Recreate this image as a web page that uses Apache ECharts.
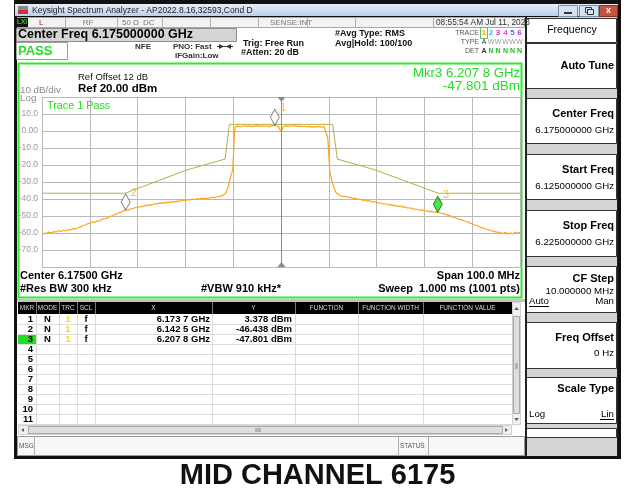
<!DOCTYPE html>
<html>
<head>
<meta charset="utf-8">
<script src="https://cdn.jsdelivr.net/npm/echarts@6.0.0/dist/echarts.min.js"></script>
<style>
html,body{margin:0;padding:0;background:#fff;}
#chart{width:631px;height:493px;}
</style>
</head>
<body>
<div id="chart"></div>
<script>
// 迹线1 读数: [频率 GHz, 电平 dBm]
var trace = [
  [6.1250,-59.8],[6.1255,-60.4],[6.1260,-60.1],[6.1265,-59.5],[6.1270,-59.9],[6.1275,-59.2],
  [6.1280,-59.4],[6.1285,-58.7],[6.1290,-59.1],[6.1295,-58.4],[6.1300,-58.8],[6.1305,-58.0],
  [6.1310,-58.3],[6.1315,-57.4],[6.1320,-57.6],[6.1325,-56.9],[6.1330,-56.5],[6.1335,-55.6],
  [6.1340,-55.3],[6.1345,-54.6],[6.1350,-54.3],[6.1355,-53.5],[6.1360,-53.8],[6.1365,-52.9],
  [6.1370,-53.1],[6.1375,-52.0],[6.1380,-51.6],[6.1385,-51.4],[6.1390,-50.5],[6.1395,-50.1],
  [6.1400,-49.4],[6.1405,-49.0],[6.1410,-48.1],[6.1415,-47.9],[6.1420,-47.1],[6.1425,-46.4],
  [6.1430,-46.6],[6.1435,-45.9],[6.1440,-45.7],[6.1445,-45.0],[6.1450,-45.1],[6.1455,-44.4],
  [6.1460,-44.6],[6.1465,-43.8],[6.1470,-43.9],[6.1475,-43.3],[6.1480,-43.5],[6.1485,-42.8],
  [6.1490,-42.9],[6.1495,-42.4],[6.1500,-42.6],[6.1505,-42.1],[6.1510,-42.3],[6.1515,-41.8],
  [6.1520,-42.0],[6.1525,-41.5],[6.1530,-41.7],[6.1535,-41.1],[6.1540,-41.2],[6.1545,-40.7],
  [6.1550,-40.9],[6.1555,-40.4],[6.1560,-40.6],[6.1565,-40.1],[6.1570,-40.3],[6.1575,-39.8],
  [6.1580,-40.0],[6.1585,-39.5],[6.1590,-39.8],[6.1595,-39.4],[6.1600,-39.6],[6.1605,-39.0],
  [6.1610,-39.2],[6.1615,-38.7],[6.1620,-38.6],[6.1625,-38.2],[6.1630,-37.6],[6.1635,-36.2],
  [6.1640,-32.5],[6.1643,-28.8],[6.1646,-25.5],[6.1649,-22.9],[6.1650,-18.0],[6.1652,-4.3],
  [6.1654,2.4],[6.1660,2.9],[6.1665,2.5],[6.1670,2.8],[6.1675,3.1],[6.1680,2.7],[6.1685,3.0],
  [6.1690,2.6],[6.1695,2.9],[6.1700,3.2],[6.1705,2.7],[6.1710,3.0],[6.1715,2.8],[6.1720,3.1],
  [6.1725,2.6],[6.1730,3.0],[6.1737,3.4],[6.1740,2.8],[6.1745,2.4],[6.1750,-0.4],[6.1755,2.5],
  [6.1760,3.0],[6.1765,2.7],[6.1770,3.1],[6.1775,2.8],[6.1780,3.2],[6.1785,2.6],[6.1790,2.9],
  [6.1795,2.5],[6.1800,2.8],[6.1805,2.4],[6.1810,2.7],[6.1815,2.3],[6.1820,2.6],[6.1825,2.4],
  [6.1830,2.7],[6.1835,2.3],[6.1840,2.6],[6.1844,2.5],[6.1848,-4.3],[6.1850,-14.0],[6.1852,-24.0],
  [6.1856,-28.8],[6.1859,-31.8],[6.1863,-34.9],[6.1866,-36.6],[6.1870,-37.4],[6.1875,-38.1],
  [6.1880,-38.6],[6.1885,-38.4],[6.1890,-39.1],[6.1895,-39.0],[6.1900,-39.7],[6.1905,-39.5],
  [6.1910,-40.2],[6.1915,-40.0],[6.1920,-40.7],[6.1925,-40.6],[6.1930,-41.2],[6.1935,-41.0],
  [6.1940,-41.7],[6.1945,-41.5],[6.1950,-42.1],[6.1955,-42.3],[6.1960,-42.5],[6.1965,-42.9],
  [6.1970,-42.8],[6.1975,-43.4],[6.1980,-43.3],[6.1985,-43.9],[6.1990,-43.8],[6.1995,-44.3],
  [6.2000,-44.2],[6.2005,-44.8],[6.2010,-44.7],[6.2015,-45.3],[6.2020,-45.2],[6.2025,-45.8],
  [6.2030,-45.9],[6.2035,-46.1],[6.2040,-46.6],[6.2045,-46.4],[6.2050,-47.0],[6.2055,-46.9],
  [6.2060,-47.4],[6.2065,-47.3],[6.2070,-47.8],[6.2075,-47.6],[6.2078,-47.8],[6.2085,-48.4],
  [6.2090,-48.6],[6.2095,-49.2],[6.2100,-49.5],[6.2105,-50.1],[6.2110,-50.7],[6.2115,-51.0],
  [6.2120,-51.6],[6.2125,-52.1],[6.2130,-52.4],[6.2135,-53.1],[6.2140,-53.4],[6.2145,-54.2],
  [6.2150,-54.5],[6.2155,-55.3],[6.2160,-55.6],[6.2165,-56.3],[6.2170,-56.8],[6.2175,-57.2],
  [6.2180,-57.8],[6.2185,-58.1],[6.2190,-58.7],[6.2195,-58.9],[6.2200,-59.5],[6.2205,-59.4],
  [6.2210,-60.1],[6.2215,-60.2],[6.2220,-59.8],[6.2225,-60.5],[6.2230,-60.1],[6.2235,-60.4],
  [6.2240,-59.7],[6.2245,-60.0],[6.2250,-59.6]
];
// 限值线 (模板)
var limitFreq = [6.1250, 6.1424, 6.1553, 6.1633, 6.1642, 6.1858, 6.1868, 6.1947, 6.2079, 6.2250];
var limitDbm  = [-36.6, -36.6, -22.9, -16.5, 3.9, 3.9, -16.5, -22.9, -36.6, -36.6];
// 标记
var markerNo   = ['1', '2', '3'];
var markerFreq = [6.1737, 6.1425, 6.2078];
var markerDbm  = [3.378, -46.438, -47.801];
var activeMarker = 2;
// 坐标轴
var centerGHz = 6.175;
var spanMHz = 100;
var refDbm = 20;
var divDb = 10;
var tableRows = ['1','2','3','4','5','6','7','8','9','10','11'];
var softKeys = ['Auto Tune','Center Freq','Start Freq','Stop Freq','CF Step','Freq Offset','Scale Type'];
var softVals = ['', '6.175000000 GHz', '6.125000000 GHz', '6.225000000 GHz', '10.000000 MHz', '0 Hz', ''];

var F = '"Liberation Sans", Arial, sans-serif';
function T(x, y, s, size, color, opt) {
  opt = opt || {};
  return {type: 'text', silent: true, z: 100,
    style: {text: s, x: x, y: y, font: (opt.bold ? 'bold ' : '') + size + 'px ' + F, fill: color,
      textAlign: opt.align || 'left', textVerticalAlign: 'middle'}};
}
function R(x, y, w, h, fill, stroke, lw) {
  return {type: 'rect', silent: true, shape: {x: x, y: y, width: w, height: h},
    style: {fill: fill || 'none', stroke: stroke || 'none', lineWidth: lw || 1}};
}
function L(x1, y1, x2, y2, c, lw) {
  return {type: 'line', silent: true, shape: {x1: x1, y1: y1, x2: x2, y2: y2}, style: {stroke: c, lineWidth: lw || 1}};
}
function P(pts, c) {
  return {type: 'polygon', silent: true, z: 50, shape: {points: pts}, style: {fill: c}};
}
function toX(f) { return (f - centerGHz) * 1000; }

var g = [];
// 窗口外框与标题栏
g.push(R(14, 0, 607, 459, '#111'));
g.push(R(15, 4, 603, 12, {type: 'linear', x: 0, y: 0, x2: 0, y2: 1,
  colorStops: [{offset: 0, color: '#e6eef8'}, {offset: 1, color: '#bcd1ea'}]}));
g.push(R(18, 6, 10, 8, '#8a8a8a'), R(18, 10, 10, 4, '#c33'));
g.push(T(32, 10.5, 'Keysight Spectrum Analyzer - AP2022.8.16,32593,Cond D', 8.5, '#1e1e1e'));
g.push(R(558.5, 5.5, 19, 11, '#d3e1f1', '#7890ae'), L(564, 13, 572, 13, '#333', 2));
g.push(R(579.5, 5.5, 19, 11, '#d3e1f1', '#7890ae'), R(585.5, 7.5, 6, 5, 'none', '#333'), R(587.5, 9.5, 6, 5, '#d3e1f1', '#333'));
g.push(R(599.5, 5.5, 18, 11, '#c9533e', '#8b2f22'), T(608.5, 11, 'x', 9, '#fff', {bold: true, align: 'center'}));
// 主区域
g.push(R(17, 17, 508, 439, '#fff'));
// 状态栏
g.push(R(17.5, 17.5, 507, 10, '#f3f3f3', '#a8a8a8'));
g.push(R(16, 18, 12, 9, '#111'), T(22, 22.5, 'LXI', 6.5, '#3c3', {bold: true, align: 'center'}));
[65, 117, 162, 210, 258, 307, 355, 433].forEach(function (x) { g.push(L(x + 0.5, 18, x + 0.5, 27, '#b0b0b0')); });
g.push(T(39, 22.5, 'L', 8, '#8b2a1a'));
g.push(T(88, 22.5, 'RF', 8, '#7a7a7a', {align: 'center'}));
g.push(T(122, 22.5, '50 \u03a9', 8, '#7a7a7a'));
g.push(T(143, 22.5, 'DC', 8, '#7a7a7a'));
g.push(T(270, 22.5, 'SENSE:INT', 8, '#7a7a7a'));
g.push(T(436, 22.5, '08:55:54 AM Jul 11, 2023', 8.3, '#333'));
// 信息区
g.push(R(16.5, 28.5, 220, 13, '#d6d6d6', '#8c8c8c'));
g.push(T(18, 35, 'Center Freq 6.175000000 GHz', 12.5, '#000', {bold: true}));
g.push(R(16.5, 42.5, 51, 17, '#fff', '#a0a0a0'));
g.push(T(18, 51, 'PASS', 13, '#22dd22', {bold: true}));
g.push(T(135, 46.5, 'NFE', 8, '#333', {bold: true}));
g.push(T(173, 46.5, 'PNO: Fast', 8, '#333', {bold: true}));
g.push(L(217, 46.5, 233, 46.5, '#333'), P([[219, 44], [224, 46.5], [219, 49]], '#333'), P([[231, 44], [226, 46.5], [231, 49]], '#333'));
g.push(T(175, 56, 'IFGain:Low', 8, '#333', {bold: true}));
g.push(T(243, 43.5, 'Trig: Free Run', 9, '#111', {bold: true}));
g.push(T(241, 53, '#Atten: 20 dB', 9, '#111', {bold: true}));
g.push(T(335, 33.5, '#Avg Type: RMS', 9, '#111', {bold: true}));
g.push(T(335, 43.5, 'Avg|Hold: 100/100', 9, '#111', {bold: true}));
var trX = [484, 491, 498, 505.5, 512.5, 519.5];
var trC = ['#ff9900', '#22bbee', '#ee22cc', '#dd44dd', '#4477ee', '#aa33ee'];
g.push(T(479, 33, 'TRACE', 7, '#555', {align: 'right'}));
g.push(T(479, 42, 'TYPE', 7, '#555', {align: 'right'}));
g.push(T(479, 51, 'DET', 7, '#555', {align: 'right'}));
g.push(R(480.5, 27.5, 7, 11, 'none', '#66bb66'));
trX.forEach(function (x, i) {
  g.push(T(x, 33, String(i + 1), 8, trC[i], {bold: true, align: 'center'}));
  g.push(T(x, 42, i === 0 ? 'A' : 'W', 7, i === 0 ? '#333' : '#9a9a9a', {align: 'center'}));
  g.push(T(x, 51, i === 0 ? 'A' : 'N', 7, i === 0 ? '#333' : '#22bb22', {bold: true, align: 'center'}));
});
// 图形区绿框
g.push(R(18.5, 63.5, 503, 234, 'none', '#2eea2e', 2));
g.push(T(78, 77, 'Ref Offset 12 dB', 9.5, '#111'));
g.push(T(78, 89, 'Ref 20.00 dBm', 11.5, '#000', {bold: true}));
g.push(T(20, 90, '10 dB/div', 9.8, '#8c8c8c'));
g.push(T(20, 98, 'Log', 9.8, '#8c8c8c'));
g.push(T(47, 106, 'Trace 1 Pass', 10.8, '#22dd22'));
g.push(T(520, 73, 'Mkr3 6.207 8 GHz', 13.2, '#22dd22', {align: 'right'}));
g.push(T(520, 86.5, '-47.801 dBm', 13.5, '#22dd22', {align: 'right'}));
g.push(P([[277.5, 97], [285.5, 97], [281.5, 102]], '#8a8a8a'));
g.push(P([[277.5, 267], [285.5, 267], [281.5, 262]], '#8a8a8a'));
g.push(T(20, 276, 'Center 6.17500 GHz', 11, '#000', {bold: true}));
g.push(T(520, 276, 'Span 100.0 MHz', 11, '#000', {bold: true, align: 'right'}));
g.push(T(20, 289, '#Res BW 300 kHz', 11, '#000', {bold: true}));
g.push(T(201, 289, '#VBW 910 kHz*', 11, '#000', {bold: true}));
g.push(T(520, 289, 'Sweep  1.000 ms (1001 pts)', 11, '#000', {bold: true, align: 'right'}));
g.push(R(17, 299, 508, 3, '#c4c4c4'));
// 标记表
var cols = [18, 36, 59, 77, 95, 212, 295, 358, 423, 512];
var heads = ['MKR', 'MODE', 'TRC', 'SCL', 'X', 'Y', 'FUNCTION', 'FUNCTION WIDTH', 'FUNCTION VALUE'];
g.push(R(18, 302, 494, 12, '#000'));
heads.forEach(function (h, i) {
  g.push(T((cols[i] + cols[i + 1]) / 2, 308.5, h, 6.5, '#d8d8d8', {align: 'center'}));
  if (i > 0) g.push(L(cols[i] + 0.5, 302, cols[i] + 0.5, 314, '#777'));
});
for (var c = 1; c < cols.length - 1; c++) g.push(L(cols[c] + 0.5, 314, cols[c] + 0.5, 425, '#dcdcdc'));
g.push(R(18, 334.5, 18, 10, '#22dd22'));
tableRows.forEach(function (r, i) {
  var yc = 319.7 + 10 * i;
  g.push(L(18, 314.5 + 10 * (i + 1), 512, 314.5 + 10 * (i + 1), '#dcdcdc'));
  g.push(T(33, yc, r, 9.5, '#000', {bold: true, align: 'right'}));
  if (i < markerFreq.length) {
    var fs = markerFreq[i].toFixed(4);
    g.push(T(47.5, yc, 'N', 9.5, '#000', {bold: true, align: 'center'}));
    g.push(T(68, yc, '1', 9.5, '#f0e000', {bold: true, align: 'center'}));
    g.push(T(86, yc, 'f', 9.5, '#000', {bold: true, align: 'center'}));
    g.push(T(210, yc, fs.slice(0, 5) + ' ' + fs.slice(5) + ' GHz', 9.5, '#000', {bold: true, align: 'right'}));
    g.push(T(292, yc, markerDbm[i].toFixed(3) + ' dBm', 9.5, '#000', {bold: true, align: 'right'}));
  }
});
// 滚动条
g.push(R(512.5, 302.5, 8, 122, '#f0f0f0', '#d0d0d0'));
g.push(P([[514, 310], [516.5, 307], [519, 310]], '#666'), P([[514, 418], [516.5, 421], [519, 418]], '#666'));
g.push(R(513.5, 316.5, 6, 97, '#dedede', '#a9a9a9'));
g.push(L(515, 364, 518, 364, '#888'), L(515, 366, 518, 366, '#888'), L(515, 368, 518, 368, '#888'));
g.push(R(18.5, 425.5, 493, 9, '#f0f0f0', '#d0d0d0'));
g.push(P([[24, 428], [21, 430], [24, 432]], '#666'), P([[505, 428], [508, 430], [505, 432]], '#666'));
g.push(R(28.5, 426.5, 474, 7, '#dedede', '#a9a9a9'));
g.push(L(256, 428, 256, 432, '#888'), L(258, 428, 258, 432, '#888'), L(260, 428, 260, 432, '#888'));
// 消息栏
g.push(R(17.5, 436.5, 507, 19, '#f7f7f7', '#9a9a9a'));
g.push(T(19, 446, 'MSG', 6.5, '#555'));
g.push(L(34.5, 437, 34.5, 456, '#b0b0b0'), L(398.5, 437, 398.5, 456, '#b0b0b0'), L(428.5, 437, 428.5, 456, '#b0b0b0'));
g.push(T(400, 446, 'STATUS', 6.5, '#555'));
// 右侧软键
g.push(R(525, 17, 93, 439, '#d4d4d4'));
g.push(R(526.5, 18.5, 90, 24, '#fff', '#333'));
g.push(T(572, 30, 'Frequency', 10.5, '#000', {align: 'center'}));
var boxes = [[43, 88], [98, 143], [154, 199], [210, 256], [266, 312], [322, 368], [377, 423], [428, 437]];
boxes.forEach(function (b) { g.push(R(526.5, b[0] + 0.5, 90, b[1] - b[0], '#fff', '#333')); });
var labY = [66, 114, 170, 226, 279, 338, 389];
var valY = [0, 130, 186, 242, 291, 353, 0];
softKeys.forEach(function (k, i) {
  g.push(T(614, labY[i], k, 11, '#000', {bold: true, align: 'right'}));
  if (softVals[i]) g.push(T(614, valY[i], softVals[i], 9.7, '#000', {align: 'right'}));
});
g.push(T(529, 301, 'Auto', 9.7, '#000'), L(529, 306.5, 549, 306.5, '#000'));
g.push(T(614, 301, 'Man', 9.7, '#000', {align: 'right'}));
g.push(T(529, 414, 'Log', 9.7, '#000'));
g.push(T(614, 414, 'Lin', 9.7, '#000', {align: 'right'}), L(600, 419.5, 614, 419.5, '#000'));
g.push(L(526, 17, 526, 456, '#222', 2), L(617.5, 17, 617.5, 456, '#222', 1));
// 底部标题
g.push(T(317.5, 476, 'MID CHANNEL 6175', 29, '#111', {bold: true, align: 'center'}));

var chart = echarts.init(document.getElementById('chart'));
chart.setOption({
  animation: false,
  backgroundColor: '#fff',
  graphic: {elements: g},
  grid: {left: 42, top: 97, width: 478, height: 170, show: true, borderColor: '#888', borderWidth: 2},
  xAxis: {
    type: 'value', min: -spanMHz / 2, max: spanMHz / 2, interval: spanMHz / 10,
    axisLine: {show: false}, axisTick: {show: false}, axisLabel: {show: false},
    splitLine: {lineStyle: {color: '#b9b9b9', width: 1}}
  },
  yAxis: {
    type: 'value', min: refDbm - 10 * divDb, max: refDbm, interval: divDb,
    axisLine: {show: false}, axisTick: {show: false},
    axisLabel: {
      color: '#9a9a9a', fontSize: 8.5, fontFamily: F, margin: 4, padding: [0, 0, 2, 0],
      formatter: function (v) {
        if (v >= refDbm || v <= refDbm - 10 * divDb) return '';
        return v === 0 ? '0.00' : v.toFixed(1);
      }
    },
    splitLine: {lineStyle: {color: '#b9b9b9', width: 1}}
  },
  series: [
    {
      name: 'limit', type: 'line', symbol: 'none', silent: true, z: 3,
      lineStyle: {color: '#b2b244', width: 1},
      data: limitFreq.map(function (f, i) { return [toX(f), limitDbm[i]]; })
    },
    {
      name: 'trace1', type: 'line', symbol: 'none', silent: true, z: 4,
      lineStyle: {color: '#ffa31a', width: 1.2},
      data: trace.map(function (p) { return [toX(p[0]), p[1]]; }),
      markLine: {
        silent: true, symbol: 'none', label: {show: false},
        lineStyle: {color: '#8a8a8a', type: 'solid', width: 1},
        data: [{xAxis: 0}]
      }
    },
    {
      name: 'markers', type: 'scatter', silent: true, z: 6,
      symbol: 'diamond', symbolSize: [9, 16], symbolOffset: [0, -8],
      label: {show: true, formatter: '{b}', position: [10, -6], color: '#ffa31a', fontSize: 11, fontFamily: F},
      data: markerNo.map(function (n, i) {
        var act = i === activeMarker;
        return {name: n, value: [toX(markerFreq[i]), markerDbm[i]],
          itemStyle: {color: act ? '#22dd22' : '#fff', borderColor: act ? '#116611' : '#666', borderWidth: 1}};
      })
    }
  ]
});
</script>
</body>
</html>
